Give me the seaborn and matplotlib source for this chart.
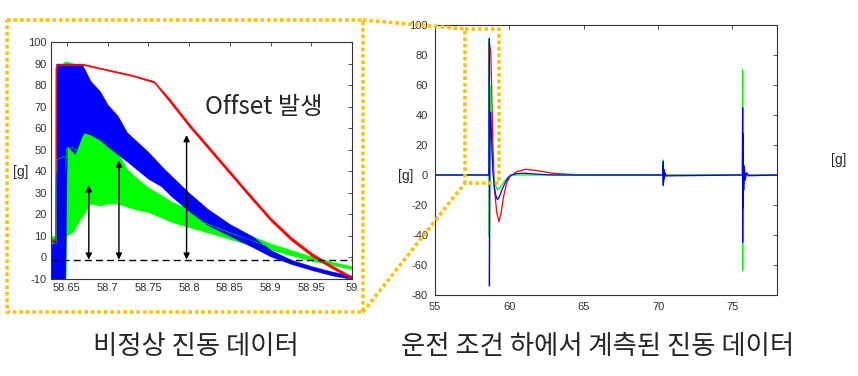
import matplotlib
matplotlib.use('Agg')
from matplotlib import pyplot as plt
from matplotlib.lines import Line2D
import pandas as pd
import seaborn as sns

# ---- zoomed view (left): envelope of each trace ----
zoom_t_blue = [58.630, 58.634, 58.6365, 58.637, 58.648, 58.650, 58.660, 58.668, 58.671, 58.679,
               58.691, 58.700, 58.712, 58.724, 58.737, 58.750, 58.766, 58.778, 58.800, 58.823,
               58.850, 58.877, 58.900, 58.925, 58.950, 58.975, 59.000]
zoom_blue_hi = [5, 8, 8, 90, 90, 90, 90, 90, 88, 82, 77, 71, 66, 58, 53.5, 49, 42.5, 38, 30, 22.5,
                15.5, 10, 3.5, -1, -4, -6.5, -8.5]
zoom_blue_lo = [-12, -12, -12, -12, -12, 52, 48, 56, 58, 57, 54.5, 51.5, 48, 44.5, 40.5, 36.5, 33,
                28.5, 21.5, 15, 10, 5, 0.5, -3, -5.8, -8.3, -10]

zoom_t_green = [58.630, 58.637, 58.638, 58.648, 58.6485, 58.6495, 58.658, 58.665, 58.671, 58.679,
                58.691, 58.700, 58.712, 58.724, 58.737, 58.750, 58.766, 58.778, 58.800, 58.823,
                58.850, 58.877, 58.900, 58.925, 58.950, 58.975, 59.000]
zoom_green_hi = [10, 10, 88, 91, 91, 91, 90, 80, 71, 66, 58, 52, 49, 41, 36.5, 32.5, 29, 26, 22.5,
                 19.5, 14.5, 10, 6.5, 3.5, 0.5, -2, -4]
zoom_green_lo = [3, 3, 3, 3, -12, 10, 12, 17, 20, 25, 24, 25, 25, 23.5, 22, 21, 18.5, 16.5, 14, 11.5,
                 8.5, 5.5, 3.5, 1, -1.5, -3.5, -5.5]

zoom_t_red = [58.630, 58.6362, 58.6366, 58.640, 58.671, 58.700, 58.730, 58.757, 58.775, 58.800,
              58.825, 58.850, 58.875, 58.900, 58.925, 58.950, 58.975, 59.000]
zoom_red_hi = [8.5, 8.5, 88.5, 89.8, 89.8, 87.3, 84.8, 81.9, 74.3, 62.3, 51.3, 40.3, 29.3, 18.6,
               9.6, 2.3, -3.6, -8.8]
zoom_red_lo = [7.5, 7.5, 87.5, 89.2, 89.2, 86.7, 84.2, 81.1, 72.7, 60.7, 49.7, 38.7, 27.7, 17.0,
               8.0, 0.7, -5.0, -10.2]

# offset arrows: time, top value (bottom sits on the dashed line)
arrow_t = [58.677, 58.714, 58.797]
arrow_top = [33.5, 45, 56.8]
offset_level = -1

zoom_xticks = [58.65, 58.7, 58.75, 58.8, 58.85, 58.9, 58.95, 59]
zoom_xlabels = ['58.65', '58.7', '58.75', '58.8', '58.85', '58.9', '58.95', '59']

# ---- full record (right) ----
full_t_red = [55, 58.62, 58.63, 58.636, 58.64, 58.75, 58.8, 58.9, 59.0, 59.15, 59.3, 59.45, 59.6,
              59.8, 60.05, 60.5, 61.1, 61.8, 62.9, 64.0, 65.0, 78]
full_red = [0, 0, 8, 8, 89, 82, 62, 18, -9.5, -25, -31, -25, -15, -6, -1, 2.2, 3.8, 3.0, 1.2, 0.4, 0, 0]

full_t_green = [55, 58.62, 58.64, 58.65, 58.65, 58.68, 58.75, 58.9, 59.0, 59.2, 59.4, 59.6, 59.8,
                60.1, 60.5, 70.33, 70.35, 70.36, 70.38, 70.42, 70.5, 75.67, 75.69, 75.69, 75.70,
                75.72, 75.75, 75.8, 75.9, 76.1, 78]
full_green = [0, 0, 5, 91, -41, 60, 25, 5, -5, -10, -8, -5, -2.5, -0.5, 0, 0, 10, -5, 4, -2, 0,
              0, 70, -63.5, 20, -12, 7, -4, 1.5, 0, 0]

full_t_blue = [55, 58.62, 58.64, 58.655, 58.66, 58.66, 58.7, 58.75, 58.8, 58.9, 59.0, 59.1, 59.2,
               59.35, 59.5, 59.7, 59.9, 60.1, 60.5, 61.0, 61.6, 62.3, 63.0, 70.33, 70.35, 70.355,
               70.36, 70.37, 70.39, 70.42, 70.46, 70.52, 75.67, 75.69, 75.69, 75.70, 75.71, 75.73,
               75.76, 75.80, 75.86, 75.95, 76.1, 78]
full_blue = [0, 0, 5, 91, 91, -74, 30, 42, 25, 1.5, -9, -14, -16.5, -14, -10, -5.5, -2, 0, 0.9, 1.2,
             0.7, 0.3, 0, 0, 9, -7, 6, -5, 3.5, -2.5, 1.5, -0.6, 0, 45, -45, 28, -22, 14, -10, 6,
             -3.5, 1.5, -0.5, 0]

full_xticks = [55, 60, 65, 70, 75]
full_yticks = [-80, -60, -40, -20, 0, 20, 40, 60, 80, 100]

RED, GREEN, BLUE = '#ff0000', '#00ff00', '#0000ff'
GOLD = '#ffc000'

sns.set_style('white')
plt.rcParams['font.family'] = ['Liberation Sans', 'Noto Sans CJK KR']
plt.rcParams['axes.unicode_minus'] = False
KFONT = ['Noto Sans CJK KR', 'DejaVu Sans']


def band(ax, t, hi, lo, color, lw):
    # min..max band of the oscillating trace, with its centre line
    df = pd.DataFrame({'t': t + t, 'g': hi + lo})
    sns.lineplot(data=df, x='t', y='g', estimator='mean', errorbar=('pi', 100), color=color,
                 lw=lw, err_kws={'alpha': 1, 'linewidth': 0.3, 'edgecolor': color}, ax=ax)


def matlab_axes(ax):
    for s in ax.spines.values():
        s.set_color('#333333')
        s.set_linewidth(0.8)
    ax.tick_params(direction='in', top=True, right=True, length=3, width=0.6,
                   colors='#333333', labelsize=8, pad=3)
    ax.set_xlabel('')
    ax.set_ylabel('')


fig = plt.figure(figsize=(8.58, 3.76), dpi=100)

# left: zoomed view
ax1 = fig.add_axes([51 / 858, 1 - 279 / 376, 301 / 858, 237 / 376])
band(ax1, zoom_t_green, zoom_green_hi, zoom_green_lo, GREEN, 0.4)
band(ax1, zoom_t_blue, zoom_blue_hi, zoom_blue_lo, BLUE, 0.4)
band(ax1, zoom_t_red, zoom_red_hi, zoom_red_lo, RED, 0.5)
ax1.axhline(offset_level, color='black', lw=1, ls=(0, (5, 3)))
for t, top in zip(arrow_t, arrow_top):
    ax1.annotate('', xy=(t, top), xytext=(t, offset_level),
                 arrowprops=dict(arrowstyle='<|-|>', color='black', lw=1.0,
                                 mutation_scale=9, shrinkA=0, shrinkB=0))
ax1.set_xlim(58.6306, 59.0)
ax1.set_ylim(-10, 100)
ax1.set_xticks(zoom_xticks)
ax1.set_xticklabels(zoom_xlabels)
ax1.set_yticks(range(-10, 101, 10))
matlab_axes(ax1)
ax1.text(58.892, 70, 'Offset 발생', fontsize=17.5, family=KFONT, ha='center', va='center')

# right: full record
ax2 = fig.add_axes([435 / 858, 1 - 295 / 376, 342 / 858, 270 / 376])
sns.lineplot(x=full_t_red, y=full_red, estimator=None, sort=False, color=RED, lw=0.9, ax=ax2)
sns.lineplot(x=full_t_green, y=full_green, estimator=None, sort=False, color=GREEN, lw=0.9, ax=ax2)
sns.lineplot(x=full_t_blue, y=full_blue, estimator=None, sort=False, color=BLUE, lw=0.9, ax=ax2)
ax2.set_xlim(55, 78)
ax2.set_ylim(-80, 100)
ax2.set_xticks(full_xticks)
ax2.set_yticks(full_yticks)
matlab_axes(ax2)
ax2.tick_params(axis='both', pad=5)

# unit labels
fig.text(21 / 858, 1 - 172 / 376, '[g]', fontsize=10, ha='center', va='center')
fig.text(406 / 858, 1 - 176 / 376, '[g]', fontsize=10, ha='center', va='center')
fig.text(839 / 858, 1 - 160 / 376, '[g]', fontsize=10, ha='center', va='center')

# captions
fig.text(196 / 858, 1 - 347 / 376, '비정상 진동 데이터', fontsize=19, family=KFONT,
         ha='center', va='center')
fig.text(598 / 858, 1 - 347 / 376, '운전 조건 하에서 계측된 진동 데이터', fontsize=19,
         family=KFONT, ha='center', va='center')


# dotted zoom frame and connectors (pixel coords)
def dotted(xs, ys):
    fig.lines.append(Line2D([x / 858 for x in xs], [1 - y / 376 for y in ys],
                            transform=fig.transFigure, color=GOLD, lw=2.6,
                            ls=(0, (1, 0.8)), zorder=10))


dotted([7, 363, 363, 7, 7], [20, 20, 312, 312, 20])
dotted([465, 499, 499, 465, 465], [29, 29, 183, 183, 29])
dotted([363, 465], [20, 29])
dotted([363, 465], [312, 183])

fig.savefig('out.png', dpi=100)
